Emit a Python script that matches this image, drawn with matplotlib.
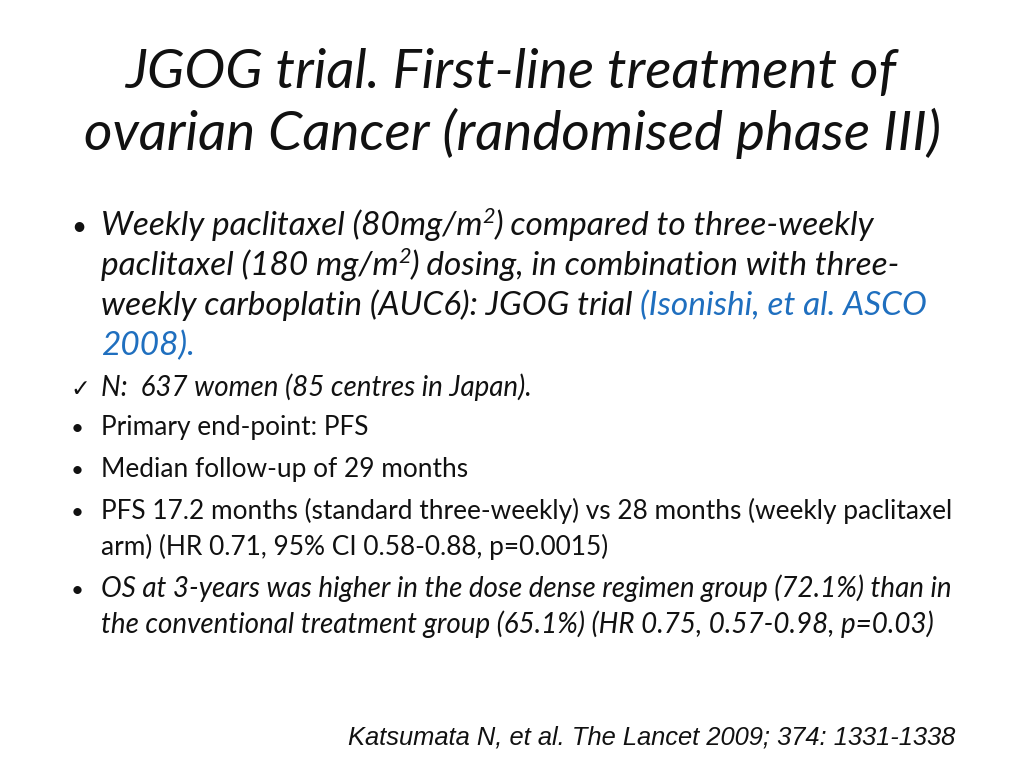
import matplotlib
matplotlib.use("Agg")
import matplotlib.pyplot as plt

# ── Slide content ─────────────────────────────────────────────────────────────

title_lines = [
    "JGOG trial. First-line treatment of",
    "ovarian Cancer (randomised phase III)",
]

# each bullet: (marker, list of lines); each line is a list of (text, style)
# styles: "n" normal, "i" italic, "ib" italic blue, "sup" italic superscript
bullets = [
    ("•", [
        [("Weekly paclitaxel (80mg/m", "i"), ("2", "sup"), (") compared to three-weekly", "i")],
        [("paclitaxel (180 mg/m", "i"), ("2", "sup"), (") dosing, in combination with three-", "i")],
        [("weekly carboplatin (AUC6): JGOG trial ", "i"), ("(Isonishi, et al. ASCO", "ib")],
        [("2008).", "ib")],
    ]),
    ("✓", [[("N:  637 women (85 centres in Japan).", "i")]]),
    ("•", [[("Primary end-point: PFS", "n")]]),
    ("•", [[("Median follow-up of 29 months", "n")]]),
    ("•", [
        [("PFS 17.2 months (standard three-weekly) vs 28 months (weekly paclitaxel", "n")],
        [("arm) (HR 0.71, 95% CI 0.58-0.88, p=0.0015)", "n")],
    ]),
    ("•", [
        [("OS at 3-years was higher in the dose dense regimen group (72.1%) than in", "i")],
        [("the conventional treatment group (65.1%) (HR 0.75, 0.57-0.98, p=0.03)", "i")],
    ]),
]

footer = "Katsumata N, et al. The Lancet 2009; 374: 1331-1338"

# ── Layout (pixels from top-left) ─────────────────────────────────────────────

W, H = 1024, 768
FONT = ["Lato", "DejaVu Sans"]
TITLE_SIZE = 39.5
BLUE = "#1f6fbf"
TEXT = "#111111"

# (italic size, upright size, wrap gap) per bullet: first one is larger
bullet_fmt = [(24, 22, 40)] + [(20, 18.9, 36)] * 5
title_base = [88, 150]
bullet_start = [235, 396, 435, 477, 519, 597]
text_x = 101
marker_x = 71

fig = plt.figure(figsize=(W / 100, H / 100), dpi=100)
fig.patch.set_facecolor("white")
renderer = fig.canvas.get_renderer()


def fy(y):
    return 1 - y / H


for line, yb in zip(title_lines, title_base):
    fig.text(0.5, fy(yb), line, ha="center", va="baseline", fontsize=TITLE_SIZE,
             style="italic", family=FONT, color=TEXT)


def draw_runs(x, yb, runs, isize, nsize):
    for txt, st in runs:
        size = nsize if st == "n" else isize
        dy = 0
        kw = dict(style="normal" if st == "n" else "italic", color=TEXT)
        if st == "ib":
            kw["color"] = BLUE
        if st == "sup":
            size = isize * 0.65
            dy = -isize * 0.5
        t = fig.text(x / W, fy(yb + dy), txt, ha="left", va="baseline",
                     fontsize=size, family=FONT, **kw)
        x += t.get_window_extent(renderer).width


for (marker, lines), y0, (isize, nsize, gap) in zip(bullets, bullet_start, bullet_fmt):
    if marker == "•":
        fig.text(marker_x / W, fy(y0), marker, ha="left", va="baseline",
                 fontsize=nsize * 0.85, family=FONT, color=TEXT)
    else:
        fig.text((marker_x - 1) / W, fy(y0), marker, ha="left", va="baseline",
                 fontsize=nsize * 0.9, family=["DejaVu Sans"], color=TEXT)
    for k, runs in enumerate(lines):
        draw_runs(text_x, y0 + k * gap, runs, isize, nsize)

fig.text(955 / W, fy(745), footer, ha="right", va="baseline", fontsize=18.4,
         style="italic", family=["Liberation Sans", "DejaVu Sans"], color=TEXT)

fig.savefig("out.png", dpi=100, facecolor="white")
